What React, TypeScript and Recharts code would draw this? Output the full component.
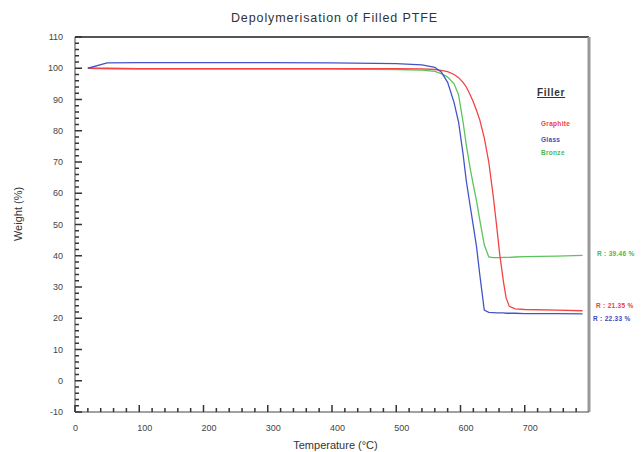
import { LineChart, Line, XAxis, YAxis, ReferenceLine } from 'recharts';

const temps = [20, 50, 100, 200, 300, 400, 500, 540, 560, 570, 580, 590, 597, 604, 609, 615, 620, 625, 630, 637, 644, 651, 656, 661, 667, 671, 676, 685, 700, 750, 790];

const graphite = [100, 100, 99.9, 99.9, 99.9, 99.9, 99.9, 99.8, 99.6, 99.3, 98.9, 98, 97, 95.5, 94, 91.5, 89.2, 86.5, 83.5, 77.7, 70, 59, 50, 40.5, 31.5, 26.5, 23.8, 23, 22.8, 22.6, 22.4];
const glass = [100, 101.7, 101.8, 101.8, 101.8, 101.7, 101.5, 101.1, 100.3, 98.8, 95.5, 89, 82.8, 72.5, 64, 56, 49.5, 42.8, 34, 22.6, 21.9, 21.8, 21.7, 21.7, 21.7, 21.6, 21.6, 21.6, 21.5, 21.5, 21.4];
const bronze = [100, 99.8, 99.7, 99.7, 99.7, 99.7, 99.6, 99.4, 99, 98.3, 97.2, 95, 91.5, 82.8, 75.5, 68, 62.6, 57.5, 51.5, 43.5, 39.6, 39.4, 39.4, 39.4, 39.5, 39.5, 39.5, 39.6, 39.7, 39.9, 40.1];

// every 20 °C and every 2 %, labels only on the majors
const xTicks = Array.from({ length: 40 }, (_, i) => i * 20);
const yTicks = Array.from({ length: 61 }, (_, i) => -10 + i * 2);

const residues = [
  { text: 'R : 39.46 %', color: '#4cb84c', x: 597, y: 250 },
  { text: 'R : 21.35 %', color: '#f03c3c', x: 596, y: 302 },
  { text: 'R : 22.33 %', color: '#3c4cc0', x: 593, y: 315 },
];

const fillers = [
  { name: 'Graphite', color: '#f03c3c', y: 120 },
  { name: 'Glass', color: '#3c4cc0', y: 136 },
  { name: 'Bronze', color: '#4cb84c', y: 149 },
];

const data = temps.map((t, i) => ({ t, graphite: graphite[i], glass: glass[i], bronze: bronze[i] }));

const XTick = (props: any) => {
  const { x, y, payload } = props;
  const v = payload.value;
  const major = v % 100 === 0;
  const len = major ? 7 : 4;
  return (
    <g>
      <rect x={x - 0.75} y={y - len} width={1.5} height={len} fill="#333" />
      {major && v <= 700 && (
        <text x={x - 2} y={y + 19} fontSize={9} fill="#444" textAnchor="start">
          {v}
        </text>
      )}
    </g>
  );
};

const YTick = (props: any) => {
  const { x, y, payload } = props;
  const v = payload.value;
  const major = v % 10 === 0;
  const len = major ? 7 : 4;
  return (
    <g>
      <rect x={x} y={y - 0.75} width={len} height={1.5} fill="#333" />
      {major && (
        <text x={x - 12} y={y + 3} fontSize={9} fill="#444" textAnchor="end">
          {v}
        </text>
      )}
    </g>
  );
};

export default function App() {
  return (
    <div style={{ position: 'absolute', left: 0, top: 0, width: 643, height: 452, fontFamily: 'Liberation Sans, Arial, sans-serif' }}>
      <LineChart width={643} height={452} data={data} margin={{ top: 37, right: 54, bottom: 0, left: 0 }}>
        <ReferenceLine y={110} stroke="#555" strokeWidth={2} />
        <ReferenceLine x={800} stroke="#999" strokeWidth={3} />
        <Line dataKey="bronze" stroke="#5cc45c" strokeWidth={1.3} dot={false} isAnimationActive={false} />
        <Line dataKey="graphite" stroke="#f54343" strokeWidth={1.3} dot={false} isAnimationActive={false} />
        <Line dataKey="glass" stroke="#4454c8" strokeWidth={1.3} dot={false} isAnimationActive={false} />
        <XAxis
          type="number"
          dataKey="t"
          domain={[0, 800]}
          ticks={xTicks}
          interval={0}
          tickSize={0}
          tickMargin={0}
          tick={<XTick />}
          height={40}
          stroke="#444"
        />
        <YAxis
          type="number"
          domain={[-10, 110]}
          ticks={yTicks}
          interval={0}
          tickSize={0}
          tickMargin={0}
          tick={<YTick />}
          width={75}
          stroke="#444"
        />
      </LineChart>

      <div style={{ position: 'absolute', left: 0, width: 643, top: 11, textAlign: 'center', fontSize: 12.5, letterSpacing: 0.9, color: '#333', paddingLeft: 26, boxSizing: 'border-box' }}>
        Depolymerisation of Filled PTFE
      </div>
      <div style={{ position: 'absolute', left: 0, width: 643, top: 439, textAlign: 'center', fontSize: 11, color: '#333', paddingLeft: 28, boxSizing: 'border-box' }}>
        Temperature (°C)
      </div>
      <div style={{ position: 'absolute', left: 18, top: 214, transform: 'translate(-50%, -50%) rotate(-90deg)', fontSize: 11, color: '#333', whiteSpace: 'nowrap' }}>
        Weight (%)
      </div>

      <div style={{ position: 'absolute', left: 537, top: 87, fontSize: 10, color: '#333', textDecoration: 'underline', fontWeight: 'bold', letterSpacing: 0.7 }}>
        Filler
      </div>
      {fillers.map((f) => (
        <div key={f.name} style={{ position: 'absolute', left: 541, top: f.y, fontSize: 6.5, fontWeight: 'bold', color: f.color, letterSpacing: 0.3 }}>
          {f.name}
        </div>
      ))}
      {residues.map((r) => (
        <div key={r.text} style={{ position: 'absolute', left: r.x, top: r.y, fontSize: 6.5, fontWeight: 'bold', color: r.color, whiteSpace: 'nowrap', letterSpacing: 0.3 }}>
          {r.text}
        </div>
      ))}
    </div>
  );
}
